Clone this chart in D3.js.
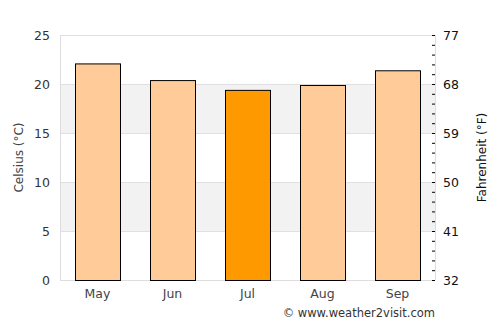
<!DOCTYPE html>
<html lang="en">
<head>
<meta charset="UTF-8">
<script src="https://d3js.org/d3.v7.min.js"></script>
<style>
  body { margin: 0; background: #fff; }
  text { font-family: "DejaVu Sans", sans-serif; }
</style>
</head>
<body>
<script>
// data
var months = ["May", "Jun", "Jul", "Aug", "Sep"];
var celsius = [22.1, 20.4, 19.4, 19.9, 21.4];
var highlight = "Jul";
var cTicks = [0, 5, 10, 15, 20, 25];
var fLabels = [32, 41, 50, 59, 68, 77];

var W = 500, H = 325;
var margin = { top: 35, right: 65, bottom: 45, left: 60 };
var width = W - margin.left - margin.right,
    height = H - margin.top - margin.bottom;

var svg = d3.select("body").append("svg")
    .attr("width", W)
    .attr("height", H);

var g = svg.append("g")
    .attr("transform", "translate(" + margin.left + "," + margin.top + ")");

var x = d3.scaleBand().domain(months).range([0, width]).paddingInner(0.4).paddingOuter(0.2);
var y = d3.scaleLinear().domain([0, 25]).range([height, 0]);

// alternating bands
g.selectAll(".band")
    .data([5, 15])
    .enter().append("rect")
    .attr("x", 0)
    .attr("width", width)
    .attr("y", function (d) { return y(d + 5); })
    .attr("height", function (d) { return y(d) - y(d + 5); })
    .style("fill", "#f2f2f2");

// grid lines
g.selectAll(".grid")
    .data(cTicks)
    .enter().append("line")
    .attr("x1", 0).attr("x2", width)
    .attr("y1", function (d) { return y(d) + 0.5; })
    .attr("y2", function (d) { return y(d) + 0.5; })
    .style("stroke", "#e0e0e0");

// frame sides
g.append("line").attr("x1", 0.5).attr("x2", 0.5).attr("y1", 0).attr("y2", height).style("stroke", "#dddddd");
g.append("line").attr("x1", width + 0.5).attr("x2", width + 0.5).attr("y1", 0).attr("y2", height).style("stroke", "#dddddd");
g.append("line").attr("x1", 0).attr("x2", width).attr("y1", height + 0.5).attr("y2", height + 0.5).style("stroke", "#dddddd");

// bars
g.selectAll(".bar")
    .data(months)
    .enter().append("rect")
    .attr("x", function (d) { return Math.round(x(d)) + 0.5; })
    .attr("width", Math.round(x.bandwidth()))
    .attr("y", function (d, i) { return y(celsius[i]) + 0.5; })
    .attr("height", function (d, i) { return height - y(celsius[i]); })
    .style("fill", function (d) { return d === highlight ? "#ff9900" : "#ffcc99"; })
    .style("stroke", "#000")
    .style("stroke-width", 1);

// left axis
var yAxis = g.append("g")
    .call(d3.axisLeft(y).tickValues(cTicks).tickSize(0).tickPadding(10));
yAxis.select(".domain").remove();
yAxis.selectAll("text").style("font-size", "12.5px").style("fill", "#333");

// right axis, Fahrenheit labels on the Celsius scale
var yR = g.append("g")
    .attr("transform", "translate(" + width + ",0)")
    .call(d3.axisRight(y).tickValues(cTicks).tickSize(0).tickPadding(8)
        .tickFormat(function (d, i) { return fLabels[i]; }));
yR.select(".domain").remove();
yR.selectAll("text").style("font-size", "12.5px").style("fill", "#111");

// minor ticks, one per degree C, pointing inward
g.selectAll(".minor")
    .data(d3.range(0, 26))
    .enter().append("line")
    .attr("x1", width - 3).attr("x2", width)
    .attr("y1", function (d) { return y(d) + 0.5; })
    .attr("y2", function (d) { return y(d) + 0.5; })
    .style("stroke", "#000");

// bottom axis
var xAxis = g.append("g")
    .attr("transform", "translate(0," + height + ")")
    .call(d3.axisBottom(x).tickSize(0).tickPadding(9));
xAxis.select(".domain").remove();
xAxis.selectAll("text").style("font-size", "12.5px").style("fill", "#444");

// axis titles
svg.append("text")
    .attr("transform", "translate(23," + (margin.top + height / 2) + ") rotate(-90)")
    .attr("text-anchor", "middle")
    .style("font-size", "12px")
    .style("fill", "#444")
    .text("Celsius (°C)");

svg.append("text")
    .attr("transform", "translate(486," + (margin.top + height / 2) + ") rotate(-90)")
    .attr("text-anchor", "middle")
    .style("font-size", "12px")
    .style("fill", "#111")
    .text("Fahrenheit (°F)");

svg.append("text")
    .attr("x", 435)
    .attr("y", 317)
    .attr("text-anchor", "end")
    .style("font-size", "11.5px")
    .style("fill", "#333")
    .text("© www.weather2visit.com");
</script>
</body>
</html>
